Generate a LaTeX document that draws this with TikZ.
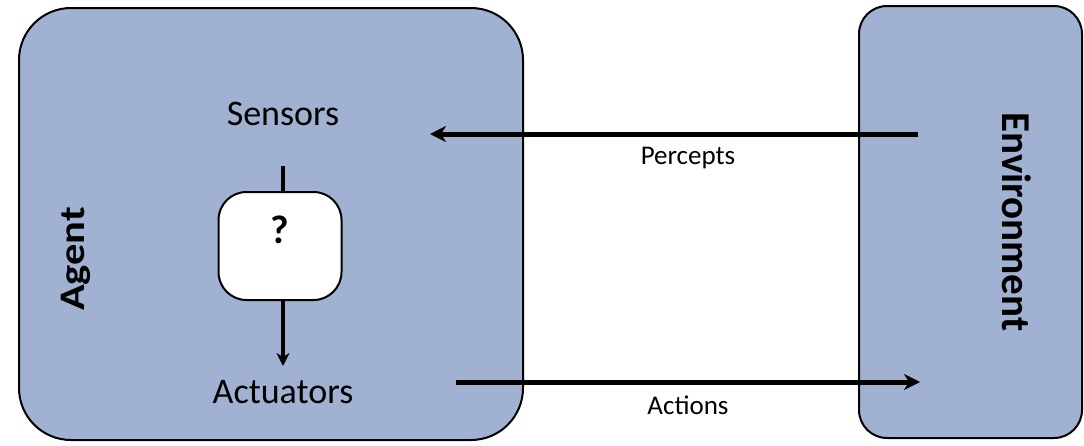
\documentclass[tikz,border=0pt]{standalone}
\usepackage{fontspec}
\setmainfont{Carlito}
\usetikzlibrary{arrows.meta}

\begin{document}
\begin{tikzpicture}[x=1pt, y=-1pt]

		% Define colors

		\definecolor{boxBlue}{RGB}{161,177,210}

		% Define styles

		\tikzset{
			bigbox/.style={draw=black, line width=2pt, fill=boxBlue, inner sep=0pt},
			thinkbox/.style={draw=black, line width=2pt, fill=white, rounded corners=28pt, inner sep=0pt, minimum width=123pt, minimum height=108pt},
			partlabel/.style={font=\fontsize{36}{40}\selectfont, inner sep=0pt},
			flowlabel/.style={font=\fontsize{27}{30}\selectfont, inner sep=0pt},
			sidelabel/.style={font=\bfseries\fontsize{41}{44}\selectfont, inner sep=0pt},
			flow/.style={line width=5pt, -{Stealth[length=16pt, width=16pt, inset=5pt]}},
			inner/.style={line width=3.5pt, -{Stealth[length=13pt, width=13pt, inset=4pt]}}
		}

		\useasboundingbox (0,0) rectangle (1084,445);

		% Draw the agent and the environment

		\node[bigbox, rounded corners=52pt, minimum width=504pt, minimum height=432pt] (agent) at (271,224) {};

		\node[bigbox, rounded corners=28pt, minimum width=223pt, minimum height=432pt] (env) at (970.5,222) {};

		% Labels inside the agent

		\node[partlabel] (sensors) at (283,114) {Sensors};

		\node[thinkbox] (think) at (280,246) {\raisebox{3pt}[0pt][0pt]{\bfseries\fontsize{40}{42}\selectfont ?}};

		\node[partlabel] (actuators) at (283,392) {Actuators};

		\node[sidelabel, rotate=90] (agentname) at (76,259) {\scalebox{1.18}[1]{\fontsize{36}{38}\selectfont Agent}};

		\node[sidelabel, rotate=-90] (envname) at (1017,222) {Environment};

		% Inner flow through the agent

		\coordinate (stemtop) at (283,166);
		\coordinate (acttip) at (283,366);

		\draw[line width=3.5pt] (stemtop) -- (stemtop |- think.north);

		\draw[inner] (acttip |- think.south) -- (acttip);

		% Percepts and actions

		\coordinate (pfrom) at (918,134);
		\coordinate (pto) at (430,134);
		\coordinate (afrom) at (456,382);
		\coordinate (ato) at (920,382);

		\draw[flow] (pfrom) -- (pto);

		\draw[flow] (afrom) -- (ato);

		\node[flowlabel] (percepts) at (688,158) {Percepts};

		\node[flowlabel] (actions) at (688,405) {Actions};

\end{tikzpicture}
\end{document}
